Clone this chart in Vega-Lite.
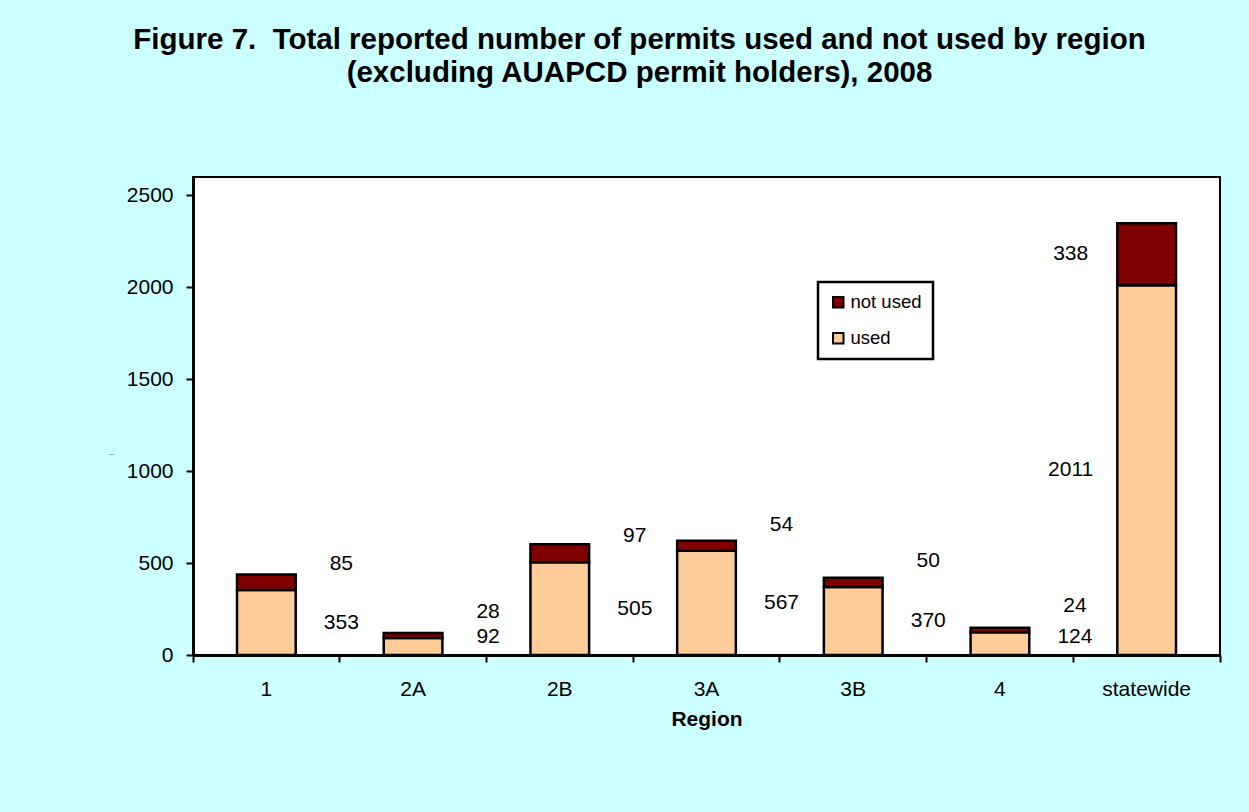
{
  "$schema": "https://vega.github.io/schema/vega-lite/v6.json",
  "width": 1027,
  "height": 478,
  "autosize": "none",
  "padding": {"left": 193, "top": 177, "right": 29, "bottom": 157},
  "background": "#CCFFFF",
  "config": {
    "font": "Liberation Sans",
    "view": {"fill": "white", "stroke": "black", "strokeWidth": 2}
  },
  "title": {
    "text": ["Figure 7.\u00a0 Total reported number of permits used and not used by region", "(excluding AUAPCD permit holders), 2008"],
    "fontSize": 29.5,
    "fontWeight": "bold",
    "color": "black",
    "anchor": "middle",
    "dx": -67,
    "offset": 89,
    "lineHeight": 33
  },
  "data": {
    "values": [
      {"region": "1", "status": "used", "count": 353},
      {"region": "1", "status": "not used", "count": 85},
      {"region": "2A", "status": "used", "count": 92},
      {"region": "2A", "status": "not used", "count": 28},
      {"region": "2B", "status": "used", "count": 505},
      {"region": "2B", "status": "not used", "count": 97},
      {"region": "3A", "status": "used", "count": 567},
      {"region": "3A", "status": "not used", "count": 54},
      {"region": "3B", "status": "used", "count": 370},
      {"region": "3B", "status": "not used", "count": 50},
      {"region": "4", "status": "used", "count": 124},
      {"region": "4", "status": "not used", "count": 24},
      {"region": "statewide", "status": "used", "count": 2011},
      {"region": "statewide", "status": "not used", "count": 338}
    ]
  },
  "transform": [
    {"stack": "count", "groupby": ["region"], "sort": [{"field": "status", "order": "descending"}], "as": ["y0", "y1"]},
    {"calculate": "(datum.y0 + datum.y1) / 2", "as": "mid"},
    {"calculate": "datum.status === 'used' ? max(datum.mid, 100) : max(datum.mid, datum.y0 + 140)", "as": "labelY"}
  ],
  "encoding": {
    "x": {
      "field": "region",
      "type": "nominal",
      "sort": ["1", "2A", "2B", "3A", "3B", "4", "statewide"],
      "scale": {"paddingInner": 0, "paddingOuter": 0},
      "axis": {
        "title": "Region",
        "titleFontSize": 21,
        "titleFontWeight": "bold",
        "titleColor": "black",
        "titlePadding": 9,
        "labelAngle": 0,
        "labelFontSize": 21,
        "labelColor": "black",
        "labelPadding": 16,
        "bandPosition": 1,
        "tickExtra": true,
        "tickSize": 7,
        "tickWidth": 2,
        "tickColor": "black",
        "domainColor": "black",
        "domainWidth": 3
      }
    }
  },
  "layer": [
    {
      "mark": {"type": "bar", "width": {"band": 0.4}, "stroke": "black", "strokeWidth": 2.5},
      "encoding": {
        "y": {
          "field": "y1",
          "type": "quantitative",
          "scale": {"domain": [0, 2500]},
          "axis": {
            "title": "–",
            "titleFontSize": 8,
            "titleFontWeight": "normal",
            "titleColor": "#555555",
            "titleAngle": 0,
            "titleX": -82,
            "titleY": 280,
            "values": [0, 500, 1000, 1500, 2000, 2500],
            "format": "d",
            "grid": false,
            "labelFontSize": 21,
            "labelColor": "black",
            "labelPadding": 13,
            "tickSize": 7,
            "tickWidth": 2,
            "tickColor": "black",
            "domainColor": "black",
            "domainWidth": 3
          }
        },
        "y2": {"field": "y0"},
        "color": {
          "field": "status",
          "type": "nominal",
          "scale": {"domain": ["not used", "used"], "range": ["#800000", "#FFCC99"]},
          "legend": {
            "title": null,
            "orient": "none",
            "legendX": 625,
            "legendY": 105,
            "fillColor": "white",
            "strokeColor": "black",
            "padding": 11,
            "symbolType": "square",
            "symbolSize": 110,
            "symbolStrokeColor": "black",
            "symbolStrokeWidth": 2,
            "labelFontSize": 18.5,
            "labelColor": "black",
            "labelOffset": 3,
            "rowPadding": 17,
            "labelLimit": 200,
            "encode": {"legend": {"update": {"strokeWidth": {"value": 2.5}}}}
          }
        }
      }
    },
    {
      "transform": [{"filter": "datum.region !== 'statewide'"}],
      "mark": {"type": "text", "dx": 75, "fontSize": 21, "color": "black"},
      "encoding": {
        "y": {"field": "labelY", "type": "quantitative"},
        "text": {"field": "count", "type": "quantitative"}
      }
    },
    {
      "transform": [{"filter": "datum.region === 'statewide'"}],
      "mark": {"type": "text", "dx": -76, "fontSize": 21, "color": "black"},
      "encoding": {
        "y": {"field": "labelY", "type": "quantitative"},
        "text": {"field": "count", "type": "quantitative"}
      }
    }
  ]
}
